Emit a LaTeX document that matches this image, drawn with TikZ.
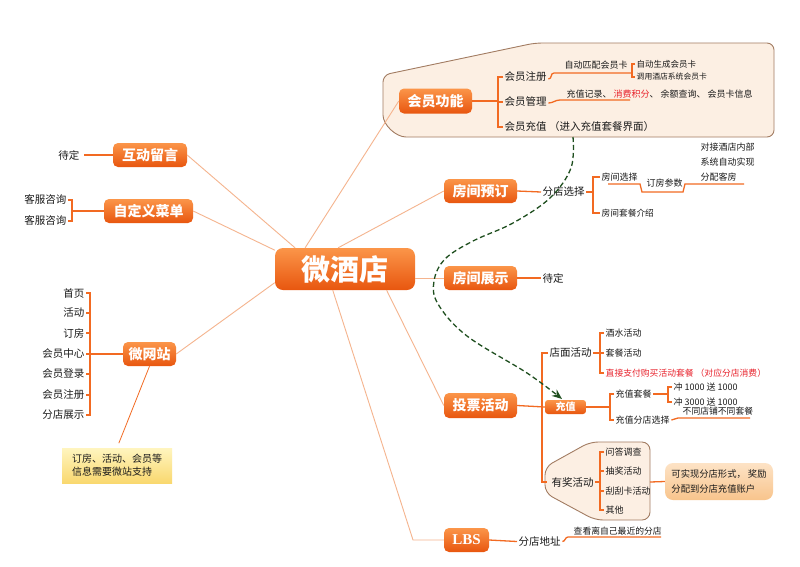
\documentclass[tikz,border=0pt]{standalone}
\usepackage{fontspec}
\setmainfont{Noto Sans CJK SC}
\newfontfamily\serifb{Liberation Serif}
\usetikzlibrary{arrows.meta}
\definecolor{ortop}{HTML}{FB9549}
\definecolor{orbot}{HTML}{E8560F}
\definecolor{subor}{HTML}{F26A22}
\definecolor{lightor}{HTML}{F5B48E}
\definecolor{calfill}{HTML}{FCEFE3}
\definecolor{caldraw}{HTML}{A27C62}
\definecolor{redtxt}{HTML}{E8212B}
\definecolor{dgreen}{HTML}{1F4F1F}
\definecolor{txtc}{HTML}{1A1A1A}
\definecolor{pktop}{HTML}{FDE3C6}
\definecolor{pkbot}{HTML}{F8C48C}
\definecolor{yltop}{HTML}{FFF5BF}
\definecolor{ylbot}{HTML}{F9D86F}
\newcommand{\fsz}[1]{\fontsize{#1}{#1}\selectfont}
\begin{document}
\begin{tikzpicture}[x=1pt,y=-1pt,
 mainbox/.style={rounded corners=5pt, top color=ortop, bottom color=orbot, text=white, font=\fsz{14}\bfseries, inner sep=0pt, minimum height=24pt},
 conn/.style={draw=lightor, line width=0.9pt},
 br/.style={draw=subor, line width=1.3pt},
 lbl/.style={inner xsep=1.5pt, inner ysep=0pt, font=\fsz{10.5}, text=txtc, anchor=west},
 lbr/.style={lbl, anchor=east},
 sml/.style={lbl, font=\fsz{9}},
 callout/.style={fill=calfill, draw=caldraw, line width=0.9pt, rounded corners=7pt},
]
\fill[white] (0,0) rectangle (800,566);
\path[use as bounding box] (0,0) rectangle (800,566);

% callouts
\draw[callout] (383,75) -- (535,43) -- (774,43) -- (774,137) -- (413,137) .. controls (396,137) and (383,125) .. (383,108) -- cycle;
\draw[callout, rounded corners=8pt] (545,467) -- (590,442) -- (650,442) -- (650,520) -- (595,520) -- (545,493) -- cycle;

% central
\node[mainbox, minimum width=140pt, minimum height=42pt, rounded corners=8pt, font=\fsz{29}\bfseries] (c) at (345,269) {微酒店};

% main branches
\node[mainbox, minimum width=73pt, minimum height=25pt] (hy) at (435.5,101) {会员功能};
\node[mainbox, minimum width=74pt] (hd) at (150,155) {互动留言};
\node[mainbox, minimum width=89pt] (zd) at (148.5,211) {自定义菜单};
\node[mainbox, minimum width=53pt] (ww) at (149.5,354) {微网站};
\node[mainbox, minimum width=73pt] (fy) at (480.5,191) {房间预订};
\node[mainbox, minimum width=73pt] (fz) at (480.5,278) {房间展示};
\node[mainbox, minimum width=73pt, minimum height=25pt] (tp) at (480.5,405.5) {投票活动};
\node[mainbox, minimum width=45pt, font=\fsz{15}\serifb\bfseries] (lbs) at (466.5,540) {LBS};
\node[mainbox, minimum width=41pt, minimum height=14pt, rounded corners=3pt, font=\fsz{10}\bfseries] (cz) at (565.5,407) {充值};

% central connectors
\draw[conn] (c.152) -- (hy.west);
\draw[conn] (c.108) -- (fy.west);
\draw[conn] (c.157) -- (hd.east);
\draw[conn] (c.165) -- (zd.east);
\draw[conn] (c.191) -- (ww.east);
\draw[conn] (fz.west) -- (fz.west -| c.east);
\draw[conn] (c.-27) -- (tp.west);
\coordinate (lb) at (413,540);
\draw[conn] (c.240) -- (lb) -- (lbs.west);

% 会员功能
\coordinate (b1) at (498,101);
\node[lbl] (zc) at (503,77) {会员注册};
\node[lbl] (gl) at (503,102) {会员管理};
\node[lbl] (cz1) at (503,127) {会员充值 （进入充值套餐界面）};
\draw[br] (hy.east) -- (b1);
\draw[br] (zc.west) -| (b1) |- (cz1.west);
\draw[br] (b1 |- gl.west) -- (gl.west);
\node[sml] (zp) at (563,65) {自动匹配会员卡};
\coordinate (u2) at (632,73);
\node[lbl, font=\fsz{8.5}] (zs) at (635,64) {自动生成会员卡};
\node[lbl, font=\fsz{7.8}] (dy) at (635,77) {调用酒店系统会员卡};
\draw[br] (zs.west) -| (u2) |- (dy.west);
\draw[br] ([yshift=-2pt]zc.east) .. controls +(4,0) and +(-4,0) .. (554,73) -- (u2);
\node[sml] (jl) at (565,94) {充值记录、 \textcolor{redtxt}{消费积分}、 余额查询、 会员卡信息};
\coordinate (u3) at (630,100);
\draw[br] ([yshift=-1pt]gl.east) .. controls +(5,0) and +(-5,0) .. (560,100) -- (u3);

% 房间预订
\node[lbl] (fd) at (541,192) {分店选择};
\draw[br] (fy.east) -- (fd.west);
\coordinate (b3) at (593,192);
\node[sml] (fx) at (600,177) {房间选择};
\node[lbl, font=\fsz{8.7}] (ftc) at (600,213) {房间套餐介绍};
\draw[br] (fd.east) -- (b3);
\draw[br] (fx.west) -| (b3) |- (ftc.west);
\node[sml] (dc) at (645,183) {订房参数};
\node[lbl, font=\fontsize{9}{15}\selectfont, align=left] (dj) at (699,162) {对接酒店内部\\系统自动实现\\分配客房};
\coordinate (s1) at (608,184);
\coordinate (s2) at (744,184);
\draw[br] (s1) -- (640,184) -- (642,192) -- (683,192) -- (685,184) -- (s2);

% 房间展示
\node[lbl] (dd1) at (541,278) {待定};
\draw[br] (fz.east) -- (dd1.west);

% 投票活动
\draw[br] (tp.east) -- (cz.west);
\node[lbl] (dm) at (548,353) {店面活动};
\node[lbl] (yj) at (550,482) {有奖活动};
\coordinate (b4) at (542,406);
\draw[br] (dm.west) -| (b4) |- ([xshift=-3pt]yj.west);
\coordinate (b5) at (600,353);
\node[sml] (js) at (604,333) {酒水活动};
\node[sml] (tc) at (604,353) {套餐活动};
\node[lbl, text=redtxt, font=\fsz{8.8}] (zj) at (604,373) {直接支付购买活动套餐 （对应分店消费）};
\draw[br] (dm.east) -- (b5);
\draw[br] (js.west) -| (b5) |- (zj.west);
\draw[br] (b5) -- (tc.west);
\coordinate (b6) at (610,407);
\node[sml] (czt) at (614,394) {充值套餐};
\node[sml] (czf) at (614,420) {充值分店选择};
\draw[br] (cz.east) -- (b6);
\draw[br] (czt.west) -| (b6) |- (czf.west);
\coordinate (b7) at (668,394);
\node[sml] (c1) at (672,387) {冲 1000 送 1000};
\node[sml] (c3) at (672,402) {冲 3000 送 1000};
\draw[br] (czt.east) -- (b7);
\draw[br] (c1.west) -| (b7) |- (c3.west);
\node[lbl, font=\fsz{8.8}] (bt) at (681,411) {不同店铺不同套餐};
\coordinate (u4) at (750,418);
\draw[br] (czf.east) .. controls +(3,0) and +(-3,0) .. (678,418) -- (u4);
\coordinate (b8) at (600,482);
\node[sml] (wd) at (604,452) {问答调查};
\node[sml] (cj) at (604,471) {抽奖活动};
\node[sml] (gg) at (604,491) {刮刮卡活动};
\node[sml] (qt) at (604,510) {其他};
\draw[br] (yj.east) -- (b8);
\draw[br] (wd.west) -| (b8) |- (qt.west);
\draw[br] (b8 |- cj.west) -- (cj.west);
\draw[br] (b8 |- gg.west) -- (gg.west);
\node[rounded corners=8pt, top color=pktop, bottom color=pkbot, minimum width=108pt, minimum height=37pt, align=left, font=\fontsize{9.3}{15}\selectfont, text=txtc, inner sep=0pt] (kx) at (719,481.5) {可实现分店形式， 奖励\\分配到分店充值账户};
\coordinate (ke) at (650,482);
\draw[br] (ke) -- (kx.west);

% LBS
\node[lbl] (fdz) at (517,541.5) {分店地址};
\draw[br] (lbs.east) -- (fdz.west);
\node[lbl, font=\fsz{8.8}] (ck) at (572,531) {查看离自己最近的分店};
\coordinate (u5) at (661,537);
\draw[br] (fdz.east) .. controls +(3,0) and +(-3,0) .. (568,537) -- (u5);

% left side
\node[lbr] (dd2) at (81,155) {待定};
\draw[br, shorten <=3pt] (dd2.east) -- (hd.west);
\coordinate (b9) at (72,211);
\node[lbr] (kf1) at (68,200) {客服咨询};
\node[lbr] (kf2) at (68,221) {客服咨询};
\draw[br] (zd.west) -- (b9);
\draw[br] (kf1.east) -| (b9) |- (kf2.east);
\coordinate (b10) at (90,354);
\node[lbr] (w1) at (86,293) {首页};
\node[lbr] (w2) at (86,313) {活动};
\node[lbr] (w3) at (86,333) {订房};
\node[lbr] (w4) at (86,354) {会员中心};
\node[lbr] (w5) at (86,374) {会员登录};
\node[lbr] (w6) at (86,395) {会员注册};
\node[lbr] (w7) at (86,415) {分店展示};
\draw[br] (ww.west) -- (w4.east);
\draw[br] (w1.east) -| (b10) |- (w7.east);
\draw[br] (b10 |- w2.east) -- (w2.east);
\draw[br] (b10 |- w3.east) -- (w3.east);
\draw[br] (b10 |- w5.east) -- (w5.east);
\draw[br] (b10 |- w6.east) -- (w6.east);
\node[top color=yltop, bottom color=ylbot, minimum width=110pt, minimum height=35pt, align=left, font=\fontsize{10}{13}\selectfont, text=txtc, inner sep=0pt] (nt) at (117,465.5) {订房、活动、会员等\\信息需要微站支持};
\draw[draw=subor, line width=0.8pt, shorten >=5pt] (ww.south) -- (nt.north);

% dashed arrow
\coordinate (ds) at (573,137);
\draw[dgreen, line width=1.3pt, dash pattern=on 5pt off 3pt, -{Stealth[length=10pt,width=8pt]}] plot[smooth, tension=0.6] coordinates {(ds) (571,168) (550,198) (513,223) (473,241) (445,259) (434,281) (438,304) (467,336) (527,373) (562,399)};
\end{tikzpicture}
\end{document}
